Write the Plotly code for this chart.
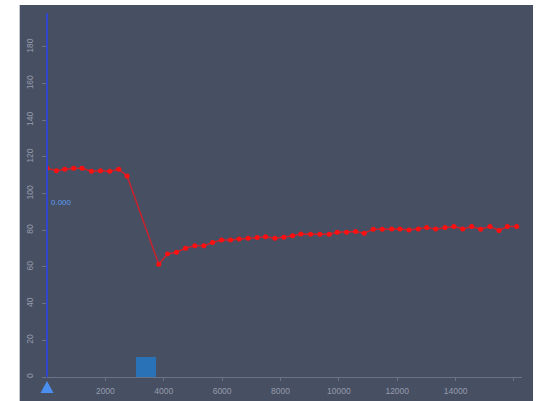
import plotly.graph_objects as go

# Data
x_vals = [0, 322, 607, 915, 1200, 1522, 1831, 2150, 2458, 2743,
          3830, 4128, 4437, 4745, 5064, 5373, 5671, 5979, 6288, 6583,
          6891, 7200, 7488, 7807, 8115, 8414, 8698, 9031, 9350, 9669,
          9943, 10265, 10574, 10869, 11177, 11486, 11808, 12093, 12402, 12721,
          13009, 13316, 13636, 13944, 14242, 14551, 14860, 15178, 15487, 15771,
          16093]
y_vals = [113.8, 112.5, 113.3, 113.8, 113.8, 112.2, 112.5, 112.2, 113.3, 109.6,
          61.5, 67.1, 68.0, 70.2, 71.6, 71.6, 73.3, 74.7, 74.7, 75.3,
          75.6, 76.0, 76.5, 75.6, 76.2, 77.0, 78.0, 77.8, 77.8, 77.8,
          78.9, 78.9, 79.3, 78.4, 80.6, 80.6, 80.7, 80.7, 80.2, 80.7,
          81.5, 80.7, 81.5, 82.0, 80.7, 82.0, 80.6, 82.0, 79.9, 82.0,
          82.0]

block_x = [3396]
block_w = [662]
block_h = [11]

cursor_x = 0
cursor_top = 198.5
cursor_label = "0.000"

x_tickvals = [2000, 4000, 6000, 8000, 10000, 12000, 14000, 16000]
x_ticktext = ["2000", "4000", "6000", "8000", "10000", "12000", "14000", ""]
y_tickvals = [0, 20, 40, 60, 80, 100, 120, 140, 160, 180]

BG = "#474f63"
TICK_COLOR = "#959cab"
AXIS_COLOR = "#6a7286"

Y_MAX = 199
PLOT_W = 544 - 47 - 22
PLOT_H = 401 - 12 - 24

fig = go.Figure()

fig.add_trace(go.Bar(x=block_x, y=block_h, width=block_w,
                     marker=dict(color="#2a72b8", line=dict(width=0)),
                     hoverinfo="skip", showlegend=False))

fig.add_trace(go.Scatter(x=x_vals, y=y_vals, mode="lines+markers",
                         line=dict(color="rgba(215,30,40,0.9)", width=1.5),
                         marker=dict(color="#ff1010", size=5),
                         showlegend=False))

fig.add_shape(type="rect", xref="paper", yref="paper",
              x0=-0.0575, x1=1.0232, y0=-0.08, y1=1.019,
              fillcolor=BG, line=dict(width=0), layer="below")

# cursor line (x=0 is the left edge of the x axis)
fig.add_shape(type="line", xref="paper", yref="paper",
              x0=0, x1=0, y0=0, y1=cursor_top / Y_MAX,
              line=dict(color="#3046cc", width=2), layer="above")

# cursor handle (triangle under the axis)
ax = 0.0
ty = -4 / PLOT_H
by = -16 / PLOT_H
hw = 6.5 / PLOT_W
fig.add_shape(type="path", xref="paper", yref="paper",
              path=f"M {ax - hw} {by} L {ax} {ty} L {ax + hw} {by} Z",
              fillcolor="#4a8ff0", line=dict(width=0), layer="above")

fig.add_annotation(x=cursor_x, y=95, xref="x", yref="y", text=cursor_label,
                   showarrow=False, xanchor="left", yanchor="middle", xshift=2,
                   font=dict(color="#5b9bf0", size=8, family="Liberation Sans"))

fig.update_layout(
    width=544, height=401,
    margin=dict(l=47, r=22, t=12, b=24, autoexpand=False),
    paper_bgcolor="white",
    plot_bgcolor="rgba(0,0,0,0)",
    bargap=0,
    font=dict(family="Liberation Sans", size=8, color=TICK_COLOR),
    xaxis=dict(range=[0, 16275], tickvals=x_tickvals, ticktext=x_ticktext,
               showgrid=False, zeroline=False, showline=True, linecolor=AXIS_COLOR,
               linewidth=1, ticks="outside", ticklen=3, tickcolor=AXIS_COLOR,
               tickfont=dict(size=8.5, color=TICK_COLOR), ticklabelstandoff=3,
               automargin=False, fixedrange=True),
    yaxis=dict(range=[0, Y_MAX], tickvals=y_tickvals, showgrid=False, zeroline=False,
               showline=False, ticks="outside", ticklen=4, tickcolor=AXIS_COLOR,
               tickangle=-90, tickfont=dict(size=8.5, color=TICK_COLOR),
               ticklabelstandoff=6, automargin=False, fixedrange=True),
)

fig.write_html("out.html",
               config={"displayModeBar": False},
               post_script="document.body.style.margin='0';"
                           "document.body.style.overflow='hidden';")
